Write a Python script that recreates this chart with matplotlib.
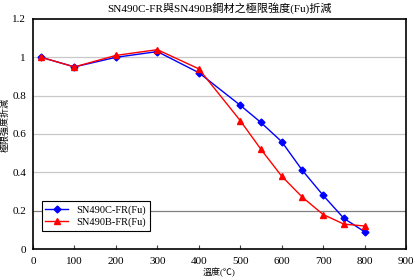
import matplotlib
matplotlib.use("Agg")
import matplotlib.pyplot as plt

plt.rcParams['font.family'] = ['Liberation Serif', 'Noto Sans CJK TC', 'DejaVu Sans']

temps = [20, 100, 200, 300, 400, 500, 550, 600, 650, 700, 750, 800]
sn490c = [1.00, 0.95, 1.00, 1.03, 0.92, 0.75, 0.66, 0.56, 0.41, 0.28, 0.16, 0.09]
sn490b = [1.00, 0.95, 1.01, 1.04, 0.94, 0.67, 0.52, 0.38, 0.27, 0.18, 0.13, 0.12]
xticks = [0, 100, 200, 300, 400, 500, 600, 700, 800, 900]
yticks = [0, 0.2, 0.4, 0.6, 0.8, 1, 1.2]
ytick_labels = ['0', '0.2', '0.4', '0.6', '0.8', '1', '1.2']

title = 'SN490C-FR與SN490B鋼材之極限強度(Fu)折減'
xlabel = '溫度(℃)'
ylabel = '極限強度折減'

fig = plt.figure(figsize=(4.14, 2.78), dpi=100)
ax = fig.add_axes([0.0797, 0.1043, 0.901, 0.8274])

for y in yticks[1:-1]:
    ax.axhline(y, color='#808080' if y == 0.2 else '#c8c8c8', lw=0.9, zorder=1)

ax.plot(temps, sn490c, color='#0000ff', marker='D', ms=3.5, lw=1.0, label='SN490C-FR(Fu)', zorder=3)
ax.plot(temps, sn490b, color='#ff0000', marker='^', ms=5, lw=1.0, label='SN490B-FR(Fu)', zorder=3)

ax.set_xlim(0, 900)
ax.set_ylim(0, 1.2)
ax.set_xticks(xticks)
ax.set_yticks(yticks)
ax.set_yticklabels(ytick_labels)
ax.tick_params(axis='x', direction='in', length=3, labelsize=8, pad=6, color='#404040')
ax.tick_params(axis='y', length=0, labelsize=8, pad=5)
for s in ax.spines.values():
    s.set_linewidth(1.2)
    s.set_color('black')

ax.set_title(title, fontsize=8, pad=5)
fig.text(219.5 / 414, 0.5 / 278, xlabel, fontsize=6.5, ha='center', va='bottom')
fig.text(0.5 / 414, 1 - 125 / 278, ylabel, fontsize=6.5, rotation=90, ha='left', va='center')

leg = ax.legend(loc='lower left', bbox_to_anchor=(0.015, 0.065), fontsize=7.5, frameon=True,
                fancybox=False, edgecolor='black', framealpha=1, borderpad=0.35,
                handlelength=2.2, labelspacing=0.3, borderaxespad=0.3)
leg.get_frame().set_linewidth(0.8)

fig.savefig('out.png', dpi=100)
